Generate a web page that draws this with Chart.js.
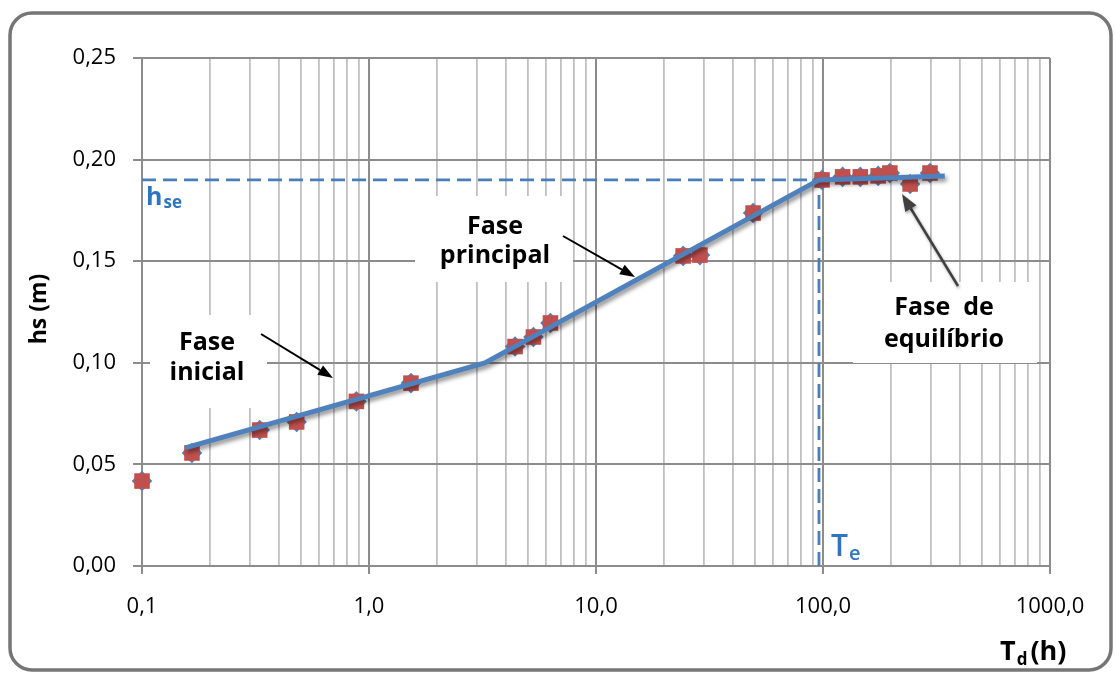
<!DOCTYPE html>
<html><head><meta charset="utf-8">
<script src="https://cdn.jsdelivr.net/npm/chart.js@4.4.1/dist/chart.umd.min.js"></script>
<style>html,body{margin:0;padding:0;background:#fff;} canvas{display:block;}</style>
</head><body>
<canvas id="c" width="1115" height="673" style="width:1115px;height:673px"></canvas>
<script>
// ---- data ----
const tdValues = [0.1, 0.166, 0.33, 0.48, 0.88, 1.53, 4.4, 5.3, 6.3, 24.2, 28.7, 49.2, 99, 122, 146, 175, 197, 242, 296];
const hsValues = [0.0418, 0.0556, 0.0669, 0.0709, 0.0810, 0.0900, 0.1080, 0.1127, 0.1196, 0.1526, 0.1530, 0.1737, 0.1900, 0.1915, 0.1915, 0.1920, 0.1934, 0.1880, 0.1934];
const trendTd = [0.155, 3.24, 96, 344];
const trendHs = [0.0581, 0.0999, 0.1900, 0.1919];
const hseValue = 0.19;
const teValue = 96;
const xTickValues = [0.1, 1, 10, 100, 1000];
const xTickLabels = ['0,1', '1,0', '10,0', '100,0', '1000,0'];
const yTickValues = [0, 0.05, 0.10, 0.15, 0.20, 0.25];
const yTickLabels = ['0,00', '0,05', '0,10', '0,15', '0,20', '0,25'];

const BLUE = '#4F81BD', RED = '#C0504D', LBLUE = '#2E75C0';
const MAJ = '#8c8c8c', MIN = '#c0c0c0';

function pts(xs, ys) { return xs.map((x, i) => ({ x: x, y: ys[i] })); }

function arrow(ctx, x0, y0, x1, y1, color, w, hl, hw) {
  const a = Math.atan2(y1 - y0, x1 - x0);
  const bx = x1 - hl * Math.cos(a), by = y1 - hl * Math.sin(a);
  ctx.strokeStyle = color; ctx.fillStyle = color; ctx.lineWidth = w;
  ctx.beginPath(); ctx.moveTo(x0, y0); ctx.lineTo(bx, by); ctx.stroke();
  ctx.beginPath();
  ctx.moveTo(x1, y1);
  ctx.lineTo(bx + hw / 2 * Math.sin(a), by - hw / 2 * Math.cos(a));
  ctx.lineTo(bx - hw / 2 * Math.sin(a), by + hw / 2 * Math.cos(a));
  ctx.closePath(); ctx.fill();
}
function subText(ctx, base, sub, x, y, fb, fs, color, dy, gap) {
  ctx.fillStyle = color; ctx.textAlign = 'left'; ctx.textBaseline = 'alphabetic';
  ctx.font = fb; ctx.fillText(base, x, y);
  const w = ctx.measureText(base).width;
  ctx.font = fs; ctx.fillText(sub, x + w + (gap || 0), y + dy);
  return x + w + (gap || 0) + ctx.measureText(sub).width;
}

const boxes = [
  { x0: 150, y0: 315, x1: 267, y1: 408, lines: ['Fase', 'inicial'], cx: 207, ys: [350, 380] },
  { x0: 415, y0: 196, x1: 573, y1: 282, lines: ['Fase', 'principal'], cx: 495, ys: [234, 263] },
  { x0: 853, y0: 282, x1: 1037, y1: 363, lines: ['Fase  de', 'equilíbrio'], cx: 944, ys: [315, 347] }
];

const annot = {
  id: 'annot',
  beforeDatasetsDraw(chart) {
    const ctx = chart.ctx;
    ctx.save(); ctx.fillStyle = '#fff';
    boxes.forEach(b => ctx.fillRect(b.x0, b.y0, b.x1 - b.x0, b.y1 - b.y0));
    ctx.restore();
  },
  beforeDatasetDraw(chart, args) {
    if (args.index === 0) {
      const ctx = chart.ctx; ctx.save();
      ctx.shadowColor = 'rgba(0,0,0,0.45)'; ctx.shadowBlur = 4; ctx.shadowOffsetX = 2; ctx.shadowOffsetY = 3;
    }
  },
  afterDatasetDraw(chart, args) {
    if (args.index === 0) chart.ctx.restore();
  },
  afterDraw(chart) {
    const ctx = chart.ctx;
    ctx.save();
    ctx.font = 'bold 25px "Open Sans"'; ctx.fillStyle = '#000'; ctx.textAlign = 'center'; ctx.textBaseline = 'alphabetic';
    boxes.forEach(b => b.lines.forEach((t, i) => ctx.fillText(t, b.cx, b.ys[i])));
    arrow(ctx, 261, 334, 333, 378, '#000', 2, 15, 11);
    arrow(ctx, 563, 236, 635, 277, '#000', 2, 15, 11);
    ctx.save();
    ctx.shadowColor = 'rgba(0,0,0,0.35)'; ctx.shadowBlur = 3; ctx.shadowOffsetX = 1; ctx.shadowOffsetY = 2;
    arrow(ctx, 958, 286, 902, 194, '#404040', 2.5, 17, 13);
    ctx.restore();
    // axis titles
    ctx.save();
    ctx.translate(46, 309); ctx.rotate(-Math.PI / 2);
    ctx.font = 'bold 23px "Open Sans"'; ctx.fillStyle = '#000'; ctx.textAlign = 'center'; ctx.textBaseline = 'alphabetic';
    ctx.fillText('hs (m)', 0, 0);
    ctx.restore();
    let xe = subText(ctx, 'T', 'd', 1000, 660, 'bold 27px "Open Sans"', 'bold 17px "Open Sans"', '#000', 5, 1);
    ctx.font = 'bold 27px "Open Sans"'; ctx.fillText('(h)', xe + 3, 660);
    // blue labels
    subText(ctx, 'h', 'se', 146, 205, 'bold 25px "Open Sans"', 'bold 17px "Open Sans"', LBLUE, 3, 1);
    subText(ctx, 'T', 'e', 831, 556, '600 30px "Open Sans"', '600 20px "Open Sans"', LBLUE, 4, 1);
    // outer rounded border
    ctx.strokeStyle = '#767676'; ctx.lineWidth = 3.5;
    ctx.beginPath(); ctx.roundRect(10, 13, 1101, 657, 22); ctx.stroke();
    ctx.restore();
  }
};

function isMajor(v) { return xTickValues.some(m => Math.abs(v - m) / m < 1e-9); }

function make() {
  new Chart(document.getElementById('c'), {
    type: 'scatter',
    data: {
      datasets: [
        { data: pts(trendTd, trendHs), showLine: true, borderColor: BLUE, borderWidth: 5, pointRadius: 0, tension: 0, clip: false, borderCapStyle: 'butt' },
        { data: pts(tdValues, hsValues), pointStyle: 'rect', pointRadius: 11, backgroundColor: RED, borderWidth: 0, clip: false },
        { data: pts(tdValues, hsValues), pointStyle: 'rectRot', pointRadius: 10.3, backgroundColor: BLUE, borderWidth: 0, clip: false },
        { data: [{ x: xTickValues[0], y: hseValue }, { x: teValue, y: hseValue }], showLine: true, borderColor: '#4A7EBB', borderWidth: 2.8, borderDash: [14, 7], pointRadius: 0 },
        { data: [{ x: teValue, y: yTickValues[0] }, { x: teValue, y: hseValue }], showLine: true, borderColor: '#4A7EBB', borderWidth: 2.8, borderDash: [14, 7], pointRadius: 0 }
      ]
    },
    options: {
      responsive: false, animation: false, devicePixelRatio: 1,
      layout: { padding: { left: 0, top: 58, right: 65, bottom: 0 } },
      plugins: { legend: { display: false }, tooltip: { enabled: false } },
      scales: {
        x: {
          type: 'logarithmic', min: xTickValues[0], max: xTickValues[xTickValues.length - 1],
          afterBuildTicks: s => {
            const t = [];
            for (let k = 0; k < xTickValues.length - 1; k++)
              for (let m = 1; m <= 9; m++) t.push({ value: xTickValues[k] * m });
            t.push({ value: xTickValues[xTickValues.length - 1] });
            s.ticks = t;
          },
          afterFit: s => { s.height = 107; },
          ticks: {
            autoSkip: false, maxRotation: 0, minRotation: 0, padding: 20, color: '#000',
            font: { family: 'Open Sans', size: 22 },
            callback: v => { const i = xTickValues.indexOf(v); return i >= 0 ? xTickLabels[i] : ''; }
          },
          grid: {
            color: c => (c.tick && isMajor(c.tick.value)) ? MAJ : MIN,
            lineWidth: c => (c.tick && isMajor(c.tick.value)) ? 2 : 1.8,
            tickLength: 8,
            tickColor: c => (c.tick && isMajor(c.tick.value)) ? MAJ : 'rgba(0,0,0,0)',
            tickWidth: 2
          },
          border: { display: true, color: MAJ, width: 2 }
        },
        y: {
          type: 'linear', min: yTickValues[0], max: yTickValues[yTickValues.length - 1],
          afterBuildTicks: s => { s.ticks = yTickValues.map(v => ({ value: v })); },
          afterFit: s => { s.width = 142; },
          ticks: {
            padding: 17, color: '#000', font: { family: 'Open Sans', size: 22 },
            callback: (v, i) => yTickLabels[i]
          },
          grid: { color: MAJ, lineWidth: 2, tickLength: 9, tickColor: MAJ, tickWidth: 2 },
          border: { display: true, color: MAJ, width: 2 }
        }
      }
    },
    plugins: [annot]
  });
}
Promise.all([
  document.fonts.load('22px "Open Sans"'),
  document.fonts.load('bold 25px "Open Sans"'),
  document.fonts.load('600 27px "Open Sans"')
]).then(make, make);
</script>
</body></html>
